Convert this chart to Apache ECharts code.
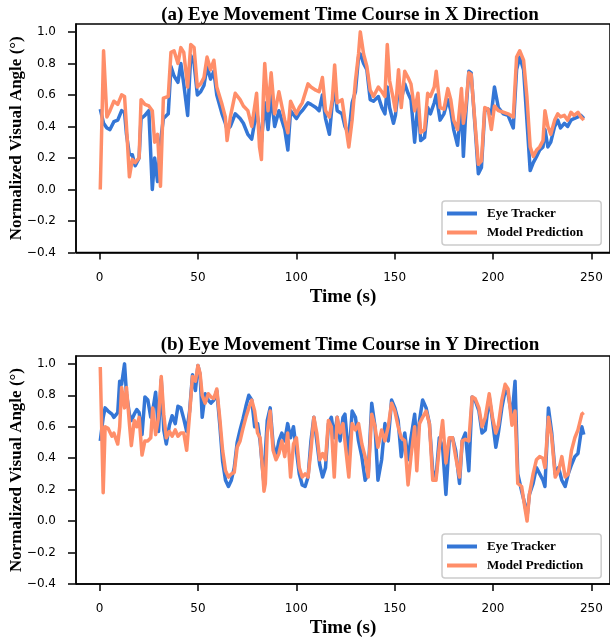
<!DOCTYPE html>
<html>
<head>
<meta charset="utf-8">
<script src="https://cdn.jsdelivr.net/npm/echarts@6/dist/echarts.min.js"></script>
<style>
  html, body { margin: 0; padding: 0; background: #fff; }
  #chart { width: 610px; height: 644px; }
</style>
</head>
<body>
<div id="chart"></div>
<script>
// time stamps (s) and normalized angles
var timeX = [0, 1.7, 3.4, 5, 7, 9, 11, 12.5, 13.5, 15, 16.5, 18, 20, 21, 23, 25, 26.8, 28, 29.5, 31,
    32.5, 35, 36.4, 38, 40, 41.5, 43, 45, 46.6, 48.3, 50, 51.7, 53.4, 55, 56.8, 58.5, 60, 62.7, 64.4, 65.3,
    67, 69.5, 72, 73.7, 76, 78, 80.5, 82, 83, 84, 84.7, 86.4, 88, 89.8, 92, 95, 96.6, 98, 101, 102.5,
    104, 107, 108.5, 111, 112.7, 114.4, 116, 118, 119.5, 120.7, 122, 124.5, 126, 128, 129.7, 131.4, 133, 133.9, 135.6, 137.3,
    139, 140.7, 143.2, 145, 146.6, 147.8, 149, 151, 152, 153.6, 155, 156.8, 158.5, 160, 161.9, 163.6, 165, 167, 168.6, 170,
    172, 173, 175, 177, 179, 180.5, 182, 184, 186, 187, 188, 189.8, 191, 193, 194.7, 196.3, 198, 199.7, 201.4, 203,
    205, 207.6, 210, 212.7, 214.4, 216, 218, 219.7, 221.4, 223, 224.7, 226.3, 228, 229, 230.5, 232, 234, 235.6, 237, 239,
    240.7, 242.4, 244, 246, 247.5, 249];
var trackerX = [0.51, 0.42, 0.39, 0.38, 0.43, 0.44, 0.5, 0.49, 0.35, 0.22, 0.22, 0.15, 0.2, 0.45, 0.47, 0.5, 0.0, 0.2, 0.05, 0.3,
    0.45, 0.48, 0.78, 0.72, 0.68, 0.8, 0.67, 0.47, 0.85, 0.8, 0.6, 0.62, 0.66, 0.78, 0.7, 0.75, 0.6, 0.48, 0.42, 0.38,
    0.4, 0.48, 0.45, 0.42, 0.35, 0.32, 0.5, 0.38, 0.3, 0.45, 0.55, 0.38, 0.6, 0.4, 0.5, 0.38, 0.25, 0.5, 0.45, 0.48,
    0.5, 0.55, 0.54, 0.52, 0.5, 0.6, 0.45, 0.35, 0.55, 0.65, 0.5, 0.48, 0.4, 0.35, 0.55, 0.62, 0.84, 0.86, 0.8, 0.76,
    0.57, 0.56, 0.59, 0.52, 0.48, 0.65, 0.52, 0.42, 0.47, 0.65, 0.57, 0.67, 0.61, 0.57, 0.3, 0.55, 0.31, 0.33, 0.52, 0.48,
    0.55, 0.6, 0.44, 0.48, 0.57, 0.5, 0.38, 0.28, 0.55, 0.21, 0.44, 0.75, 0.74, 0.4, 0.1, 0.14, 0.5, 0.51, 0.48, 0.65,
    0.52, 0.48, 0.47, 0.39, 0.76, 0.84, 0.76, 0.44, 0.12, 0.17, 0.21, 0.25, 0.27, 0.38, 0.27, 0.3, 0.4, 0.44, 0.39, 0.42,
    0.4, 0.44, 0.45, 0.46, 0.47, 0.45];
var modelX = [0.0, 0.88, 0.46, 0.5, 0.56, 0.54, 0.6, 0.59, 0.4, 0.08, 0.19, 0.17, 0.2, 0.57, 0.54, 0.53, 0.5, 0.3, 0.35, 0.02,
    0.58, 0.59, 0.87, 0.88, 0.8, 0.9, 0.87, 0.65, 0.92, 0.9, 0.65, 0.67, 0.71, 0.84, 0.76, 0.82, 0.65, 0.54, 0.46, 0.31,
    0.46, 0.61, 0.57, 0.53, 0.5, 0.4, 0.61, 0.27, 0.19, 0.6, 0.8, 0.5, 0.74, 0.48, 0.62, 0.44, 0.36, 0.56, 0.48, 0.52,
    0.55, 0.67, 0.65, 0.63, 0.62, 0.71, 0.5, 0.46, 0.57, 0.79, 0.55, 0.57, 0.44, 0.27, 0.44, 0.69, 0.86, 1.0, 0.86, 0.78,
    0.63, 0.59, 0.65, 0.62, 0.59, 0.92, 0.69, 0.57, 0.5, 0.76, 0.52, 0.75, 0.71, 0.67, 0.5, 0.61, 0.36, 0.38, 0.61, 0.59,
    0.65, 0.75, 0.52, 0.51, 0.64, 0.57, 0.44, 0.38, 0.64, 0.42, 0.5, 0.74, 0.73, 0.42, 0.16, 0.18, 0.52, 0.51, 0.38, 0.53,
    0.5, 0.49, 0.48, 0.46, 0.84, 0.88, 0.82, 0.59, 0.27, 0.21, 0.25, 0.27, 0.31, 0.5, 0.4, 0.35, 0.44, 0.48, 0.46, 0.47,
    0.44, 0.49, 0.47, 0.49, 0.46, 0.44];

var timeY = [0, 1.5, 2.5, 4, 6, 7, 9, 10, 11, 12.5, 13.5, 15, 16, 17.5, 18.8, 20, 21.5, 23, 24.5, 26,
    27, 28.5, 30, 31.4, 32.7, 34, 35.6, 37, 38.6, 40, 41.5, 43, 44.5, 46, 47.5, 49, 50.3, 51.4, 52.5, 54,
    55.6, 57, 58.5, 60, 61.5, 63, 64.5, 66, 67.5, 69, 70.5, 72, 73.5, 75, 76.5, 78, 79.5, 81, 82.3, 83.5,
    84.3, 85, 86, 87.5, 89, 90.5, 92, 93.5, 95, 96.5, 98, 99.5, 101, 102.5, 104, 105.5, 107, 108.5, 110, 111.5,
    113, 114.5, 116, 117.5, 119, 120.5, 122, 123.5, 125, 126, 128, 129.7, 131.4, 133, 134.7, 136.4, 138, 139.8, 141.5, 143,
    144.9, 146.6, 148.3, 150, 151.7, 153.4, 155, 156.8, 158.5, 160, 161.9, 163, 164.4, 166, 167.8, 169.5, 171.2, 172.9, 174.6, 176.3,
    178, 179.7, 181.4, 183, 185, 186.4, 188, 189.8, 191.5, 193, 195, 196.6, 198.3, 200.3, 202, 203.7, 205, 206.8, 208.5, 210,
    212, 213.6, 215, 217, 218.6, 219.8, 221, 222.9, 224.6, 226.3, 228, 229, 230.8, 232.5, 234.3, 236, 237.7, 239.4, 241, 242.7,
    244.4, 246, 248, 249];
var trackerY = [0.51, 0.66, 0.72, 0.7, 0.68, 0.66, 0.69, 0.89, 0.87, 1.0, 0.81, 0.68, 0.64, 0.68, 0.71, 0.69, 0.55, 0.79, 0.77, 0.66,
    0.7, 0.82, 0.57, 0.9, 0.58, 0.49, 0.61, 0.67, 0.62, 0.73, 0.72, 0.65, 0.57, 0.7, 0.93, 0.83, 0.99, 0.93, 0.66, 0.81,
    0.77, 0.75, 0.77, 0.83, 0.62, 0.38, 0.26, 0.22, 0.26, 0.34, 0.5, 0.58, 0.65, 0.73, 0.8, 0.77, 0.6, 0.62, 0.51, 0.34,
    0.24, 0.43, 0.64, 0.72, 0.49, 0.41, 0.51, 0.56, 0.51, 0.62, 0.53, 0.6, 0.45, 0.3, 0.23, 0.22, 0.28, 0.51, 0.66, 0.51,
    0.36, 0.28, 0.34, 0.62, 0.66, 0.53, 0.66, 0.51, 0.66, 0.68, 0.39, 0.7, 0.66, 0.51, 0.41, 0.26, 0.3, 0.75, 0.6, 0.26,
    0.39, 0.62, 0.51, 0.77, 0.72, 0.64, 0.41, 0.56, 0.39, 0.53, 0.68, 0.49, 0.64, 0.77, 0.72, 0.62, 0.32, 0.28, 0.53, 0.47,
    0.17, 0.51, 0.53, 0.45, 0.24, 0.51, 0.56, 0.32, 0.79, 0.77, 0.7, 0.56, 0.58, 0.79, 0.64, 0.47, 0.56, 0.72, 0.83, 0.81,
    0.66, 0.89, 0.3, 0.19, 0.11, 0.03, 0.17, 0.24, 0.34, 0.3, 0.26, 0.22, 0.72, 0.56, 0.3, 0.34, 0.26, 0.22, 0.3, 0.36,
    0.41, 0.43, 0.6, 0.55];
var modelY = [0.98, 0.18, 0.6, 0.59, 0.54, 0.56, 0.49, 0.6, 0.85, 0.72, 0.85, 0.62, 0.48, 0.64, 0.6, 0.66, 0.42, 0.51, 0.51, 0.53,
    0.72, 0.55, 0.66, 0.92, 0.68, 0.53, 0.57, 0.54, 0.58, 0.54, 0.56, 0.56, 0.45, 0.68, 0.92, 0.89, 0.99, 0.94, 0.8, 0.75,
    0.81, 0.79, 0.78, 0.84, 0.66, 0.45, 0.32, 0.28, 0.3, 0.31, 0.47, 0.51, 0.59, 0.66, 0.72, 0.77, 0.7, 0.56, 0.53, 0.34,
    0.19, 0.24, 0.56, 0.7, 0.45, 0.39, 0.43, 0.51, 0.41, 0.56, 0.28, 0.49, 0.53, 0.34, 0.28, 0.3, 0.28, 0.45, 0.66, 0.56,
    0.39, 0.43, 0.39, 0.64, 0.6, 0.28, 0.66, 0.56, 0.62, 0.62, 0.28, 0.62, 0.58, 0.62, 0.49, 0.41, 0.28, 0.68, 0.6, 0.47,
    0.58, 0.51, 0.6, 0.75, 0.7, 0.6, 0.53, 0.51, 0.23, 0.41, 0.6, 0.32, 0.62, 0.66, 0.7, 0.62, 0.26, 0.26, 0.47, 0.64,
    0.37, 0.53, 0.53, 0.41, 0.28, 0.51, 0.52, 0.51, 0.79, 0.78, 0.72, 0.6, 0.66, 0.81, 0.66, 0.56, 0.61, 0.77, 0.87, 0.84,
    0.61, 0.7, 0.24, 0.22, 0.09, 0.0, 0.17, 0.3, 0.39, 0.41, 0.4, 0.34, 0.66, 0.53, 0.28, 0.32, 0.41, 0.28, 0.3, 0.45,
    0.53, 0.58, 0.68, 0.69];

var serif = '"Liberation Serif", "Times New Roman", serif';
var blue = '#3476d6';
var orange = '#ff8e69';

// plot box geometry (matplotlib-like margins: x -12.5..262.5, y -0.4..1.05)
var plotLeft = 75, plotWidth = 541;
var xMin = -12.5, xMax = 262.5, yMin = -0.4, yMax = 1.05;
var panels = [{ top: 24, height: 228.5 }, { top: 356, height: 228 }];

function pairs(ts, vs) {
    return ts.map(function (t, i) { return [t, vs[i]]; });
}

var grids = [], xAxes = [], yAxes = [];
panels.forEach(function (p, i) {
    // main grid holding the data and the frame
    grids.push({ left: plotLeft, top: p.top, width: plotWidth, height: p.height,
        show: true, borderColor: '#000', borderWidth: 1.5 });
    xAxes.push({
        type: 'value', gridIndex: 2 * i, min: xMin, max: xMax,
        name: 'Time (s)', nameLocation: 'middle', nameGap: 35,
        nameTextStyle: { fontFamily: serif, fontWeight: 'bold', fontSize: 19, color: '#000' },
        axisLine: { show: true, onZero: false, lineStyle: { color: '#000', width: 1.5 } },
        axisTick: { show: false }, axisLabel: { show: false }, splitLine: { show: false }
    });
    yAxes.push({
        type: 'value', gridIndex: 2 * i, min: yMin, max: yMax,
        name: 'Normalized Visual Angle (\u00b0)', nameLocation: 'middle', nameGap: 51,
        nameTextStyle: { fontFamily: serif, fontWeight: 'bold', fontSize: 17, color: '#000' },
        axisLine: { show: true, onZero: false, lineStyle: { color: '#000', width: 1.5 } },
        axisTick: { show: false }, axisLabel: { show: false }, splitLine: { show: false }
    });
    // tick grid: spans exactly 0..250 and -0.4..1.0 so ticks land on round values
    var pxX = plotWidth / (xMax - xMin);
    var pxY = p.height / (yMax - yMin);
    var tLeft = plotLeft - xMin * pxX;
    var tTop = p.top + (yMax - 1.0) * pxY;
    grids.push({ left: tLeft, top: tTop, width: 250 * pxX, height: 1.4 * pxY, show: false });
    xAxes.push({
        type: 'value', gridIndex: 2 * i + 1, min: 0, max: 250, interval: 50,
        axisLine: { show: false, onZero: false },
        axisTick: { show: true, length: 7, lineStyle: { color: '#000', width: 1.5 } },
        axisLabel: { margin: 19, fontFamily: 'DejaVu Sans', fontSize: 12, color: '#000' },
        splitLine: { show: false }
    });
    yAxes.push({
        type: 'value', gridIndex: 2 * i + 1, min: -0.4, max: 1.0, interval: 0.2,
        offset: tLeft - plotLeft,
        axisLine: { show: false, onZero: false },
        axisTick: { show: true, length: 7, lineStyle: { color: '#000', width: 1.5 } },
        axisLabel: {
            margin: 19, fontFamily: 'DejaVu Sans', fontSize: 12, color: '#000',
            formatter: function (v) { return v.toFixed(1).replace('-', '\u2212'); }
        },
        splitLine: { show: false }
    });
});

function legendFor(top) {
    return {
        orient: 'vertical', left: 442, top: top,
        data: ['Eye Tracker', 'Model Prediction'],
        icon: 'rect', itemWidth: 30, itemHeight: 4, itemGap: 6,
        padding: [6, 18, 6, 5],
        backgroundColor: '#fff', borderColor: '#ccc', borderWidth: 1.5, borderRadius: 3,
        textStyle: { fontFamily: serif, fontWeight: 'bold', fontSize: 13, color: '#000', padding: [0, 0, 0, 5] }
    };
}

function lineSeries(name, idx, data, color) {
    return {
        name: name, type: 'line', xAxisIndex: idx, yAxisIndex: idx,
        data: data, showSymbol: false, symbol: 'none', animation: false,
        lineStyle: { color: color, width: 3.5, join: 'round' },
        itemStyle: { color: color }
    };
}

var chart = echarts.init(document.getElementById('chart'));
chart.setOption({
    animation: false,
    title: [
        { text: '(a) Eye Movement Time Course in X Direction', left: 345, top: 1, textAlign: 'center',
          textStyle: { fontFamily: serif, fontWeight: 'bold', fontSize: 19, color: '#000' } },
        { text: '(b) Eye Movement Time Course in Y Direction', left: 345, top: 331, textAlign: 'center',
          textStyle: { fontFamily: serif, fontWeight: 'bold', fontSize: 19, color: '#000' } }
    ],
    grid: grids,
    legend: [legendFor(201), legendFor(534)],
    xAxis: xAxes,
    yAxis: yAxes,
    series: [
        lineSeries('Eye Tracker', 0, pairs(timeX, trackerX), blue),
        lineSeries('Model Prediction', 0, pairs(timeX, modelX), orange),
        lineSeries('Eye Tracker', 2, pairs(timeY, trackerY), blue),
        lineSeries('Model Prediction', 2, pairs(timeY, modelY), orange)
    ]
});
</script>
</body>
</html>
